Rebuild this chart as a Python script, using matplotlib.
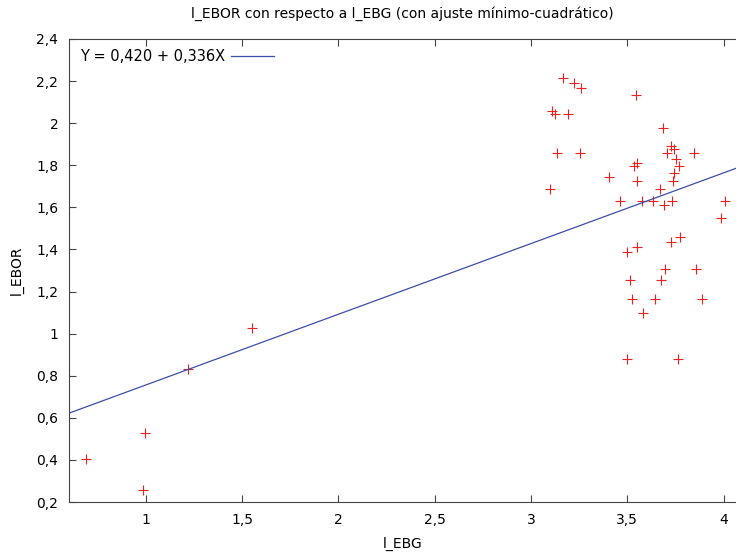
import matplotlib
matplotlib.use('Agg')
import matplotlib.pyplot as plt
from matplotlib.ticker import FuncFormatter, MultipleLocator

# datos
l_ebg = [0.69, 0.996, 0.988, 1.218, 1.55,
         3.164, 3.225, 3.261, 3.543, 3.109, 3.126, 3.194, 3.684, 3.133, 3.252,
         3.729, 3.741, 3.706, 3.845, 3.750, 3.770, 3.551, 3.537, 3.744, 3.739,
         3.549, 3.405, 3.099, 3.670, 3.462, 3.575, 3.632, 3.734, 3.689, 4.009,
         3.987,
         3.774, 3.729, 3.551, 3.497, 3.693, 3.855, 3.514, 3.677, 3.525, 3.646,
         3.888, 3.582, 3.497, 3.762]
l_ebor = [0.403, 0.526, 0.258, 0.832, 1.028,
          2.213, 2.189, 2.165, 2.132, 2.057, 2.045, 2.045, 1.975, 1.859, 1.859,
          1.891, 1.876, 1.859, 1.859, 1.828, 1.795, 1.810, 1.796, 1.762, 1.724,
          1.724, 1.743, 1.688, 1.688, 1.630, 1.630, 1.630, 1.630, 1.611, 1.630,
          1.548,
          1.460, 1.435, 1.411, 1.386, 1.307, 1.307, 1.253, 1.253, 1.163, 1.163,
          1.163, 1.096, 0.878, 0.878]
a, b = 0.420, 0.336
x_lim = [0.604, 4.064]

plt.rcParams['font.family'] = 'DejaVu Sans'
fig = plt.figure(figsize=(7.36, 5.56), dpi=100)
ax = fig.add_axes([0.0944, 0.0971, 0.9056, 0.8328])

ax.plot(l_ebg, l_ebor, '+', color='#e8221e', markersize=7, markeredgewidth=0.8)
ax.plot(x_lim, [a + b * x for x in x_lim], color='#3a4fa8', linewidth=0.9,
        label='Y = 0,420 + 0,336X')

ax.set_xlim(x_lim)
ax.set_ylim(0.2, 2.4)
ax.xaxis.set_major_locator(MultipleLocator(0.5))
ax.yaxis.set_major_locator(MultipleLocator(0.2))
fmt = FuncFormatter(lambda v, p: ('%g' % round(v, 2)).replace('.', ','))
ax.xaxis.set_major_formatter(fmt)
ax.yaxis.set_major_formatter(fmt)
ax.tick_params(direction='in', top=True, right=False, length=5, labelsize=10,
               color='#444444', pad=8)
for s in ax.spines.values():
    s.set_color('#444444')
ax.spines['right'].set_visible(False)

ax.set_xlabel('l_EBG', fontsize=10, labelpad=7)
ax.set_ylabel('l_EBOR', fontsize=10, labelpad=9)
ax.set_title('l_EBOR con respecto a l_EBG (con ajuste mínimo-cuadrático)',
             fontsize=10, pad=15)
ax.legend(loc='upper left', frameon=False, markerfirst=False, fontsize=10.5,
          handlelength=3, borderaxespad=0.3, handletextpad=0.4)

fig.savefig('out.png', dpi=100)
